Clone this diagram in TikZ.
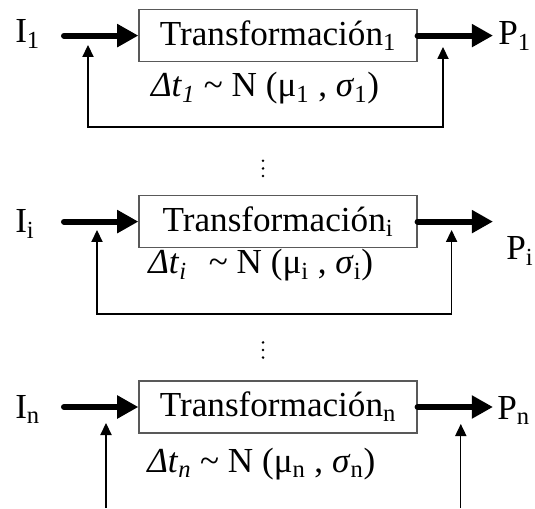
\documentclass[tikz,border=0pt]{standalone}
\usepackage{fontspec}
\setmainfont{Liberation Serif}
\usetikzlibrary{arrows.meta}

\begin{document}
\begin{tikzpicture}[
  every node/.style={inner sep=0pt, font=\fontsize{25}{30}\selectfont},
  trbox/.style={draw=black!65, line width=0.9pt, minimum width=6.95cm, minimum height=1.3cm},
  flow/.style={line width=4.3pt, line cap=round, -{Triangle[length=0.53cm, width=0.55cm]}},
  back/.style={line width=0.85pt, {Triangle[length=0.3cm, width=0.28cm]}-{Triangle[length=0.3cm, width=0.28cm]}},
  feed/.style={line width=0.85pt, -{Triangle[length=0.3cm, width=0.28cm]}},
  dot/.style={fill=black, radius=0.035}
]
  \useasboundingbox (0,0) rectangle (13.375,12.7);

  % first transformation
  \node[trbox] (box1) at (6.95, 11.81) {Transformación\textsubscript{1}};
  \node[anchor=base west] (in1) at (0.375, 11.625) {I\textsubscript{1}};
  \node[anchor=base west] (out1) at (12.45, 11.575) {P\textsubscript{1}};
  \coordinate (s1) at (1.6, 11.81);
  \coordinate (e1) at (12.325, 11.81);
  \coordinate (lt1) at (2.2, 11.575);
  \coordinate (rt1) at (11.075, 11.525);
  \coordinate (bt1) at (0, 9.525);
  \draw[flow] (s1) -- (box1.west);
  \draw[flow] (box1.east) -- (e1);
  \draw[back] (lt1) -- (lt1 |- bt1) -| (rt1);
  \node[anchor=base west] (dist1) at (3.77, 10.275)
    {\textit{Δt}\textsubscript{\itshape 1} \textasciitilde\ N (μ\textsubscript{1} , \textit{σ}\textsubscript{1})};
  % vertical dots
  \fill[dot] (6.575, 8.68) circle[] (6.575, 8.49) circle[] (6.575, 8.30) circle[];

  % i-th transformation
  \node[trbox] (box2) at (6.95, 7.16) {Transformación\textsubscript{i}};
  \node[anchor=base west] (in2) at (0.375, 6.875) {I\textsubscript{i}};
  \node[anchor=base west] (out2) at (12.65, 6.2) {P\textsubscript{i}};
  \coordinate (s2) at (1.6, 7.16);
  \coordinate (e2) at (12.325, 7.16);
  \coordinate (lt2) at (2.425, 6.95);
  \coordinate (rt2) at (11.29, 6.95);
  \coordinate (bt2) at (0, 4.85);
  \draw[flow] (s2) -- (box2.west);
  \draw[flow] (box2.east) -- (e2);
  \draw[back] (lt2) -- (lt2 |- bt2) -| (rt2);
  \node[anchor=base west] (dist2) at (3.7, 5.85)
    {\textit{Δt}\textsubscript{\itshape i}\hspace{0.55cm}\textasciitilde\ N (μ\textsubscript{i} , \textit{σ}\textsubscript{i})};
  \fill[dot] (6.575, 4.14) circle[] (6.575, 3.95) circle[] (6.575, 3.76) circle[];

  % n-th transformation
  \node[trbox] (box3) at (6.95, 2.525) {Transformación\textsubscript{n}};
  \node[anchor=base west] (in3) at (0.375, 2.25) {I\textsubscript{n}};
  \node[anchor=base west] (out3) at (12.425, 2.225) {P\textsubscript{n}};
  \coordinate (s3) at (1.6, 2.525);
  \coordinate (e3) at (12.325, 2.525);
  \coordinate (lt3) at (2.65, 2.125);
  \coordinate (rt3) at (11.52, 2.1);
  \coordinate (lb3) at (2.65, 0);
  \coordinate (rb3) at (11.52, 0);
  \draw[flow] (s3) -- (box3.west);
  \draw[flow] (box3.east) -- (e3);
  \draw[feed] (lb3) -- (lt3);
  \draw[feed] (rb3) -- (rt3);
  \node[anchor=base west] (dist3) at (3.675, 0.9)
    {\textit{Δt}\textsubscript{\itshape n} \textasciitilde\ N (μ\textsubscript{n} , \textit{σ}\textsubscript{n})};
\end{tikzpicture}
\end{document}
